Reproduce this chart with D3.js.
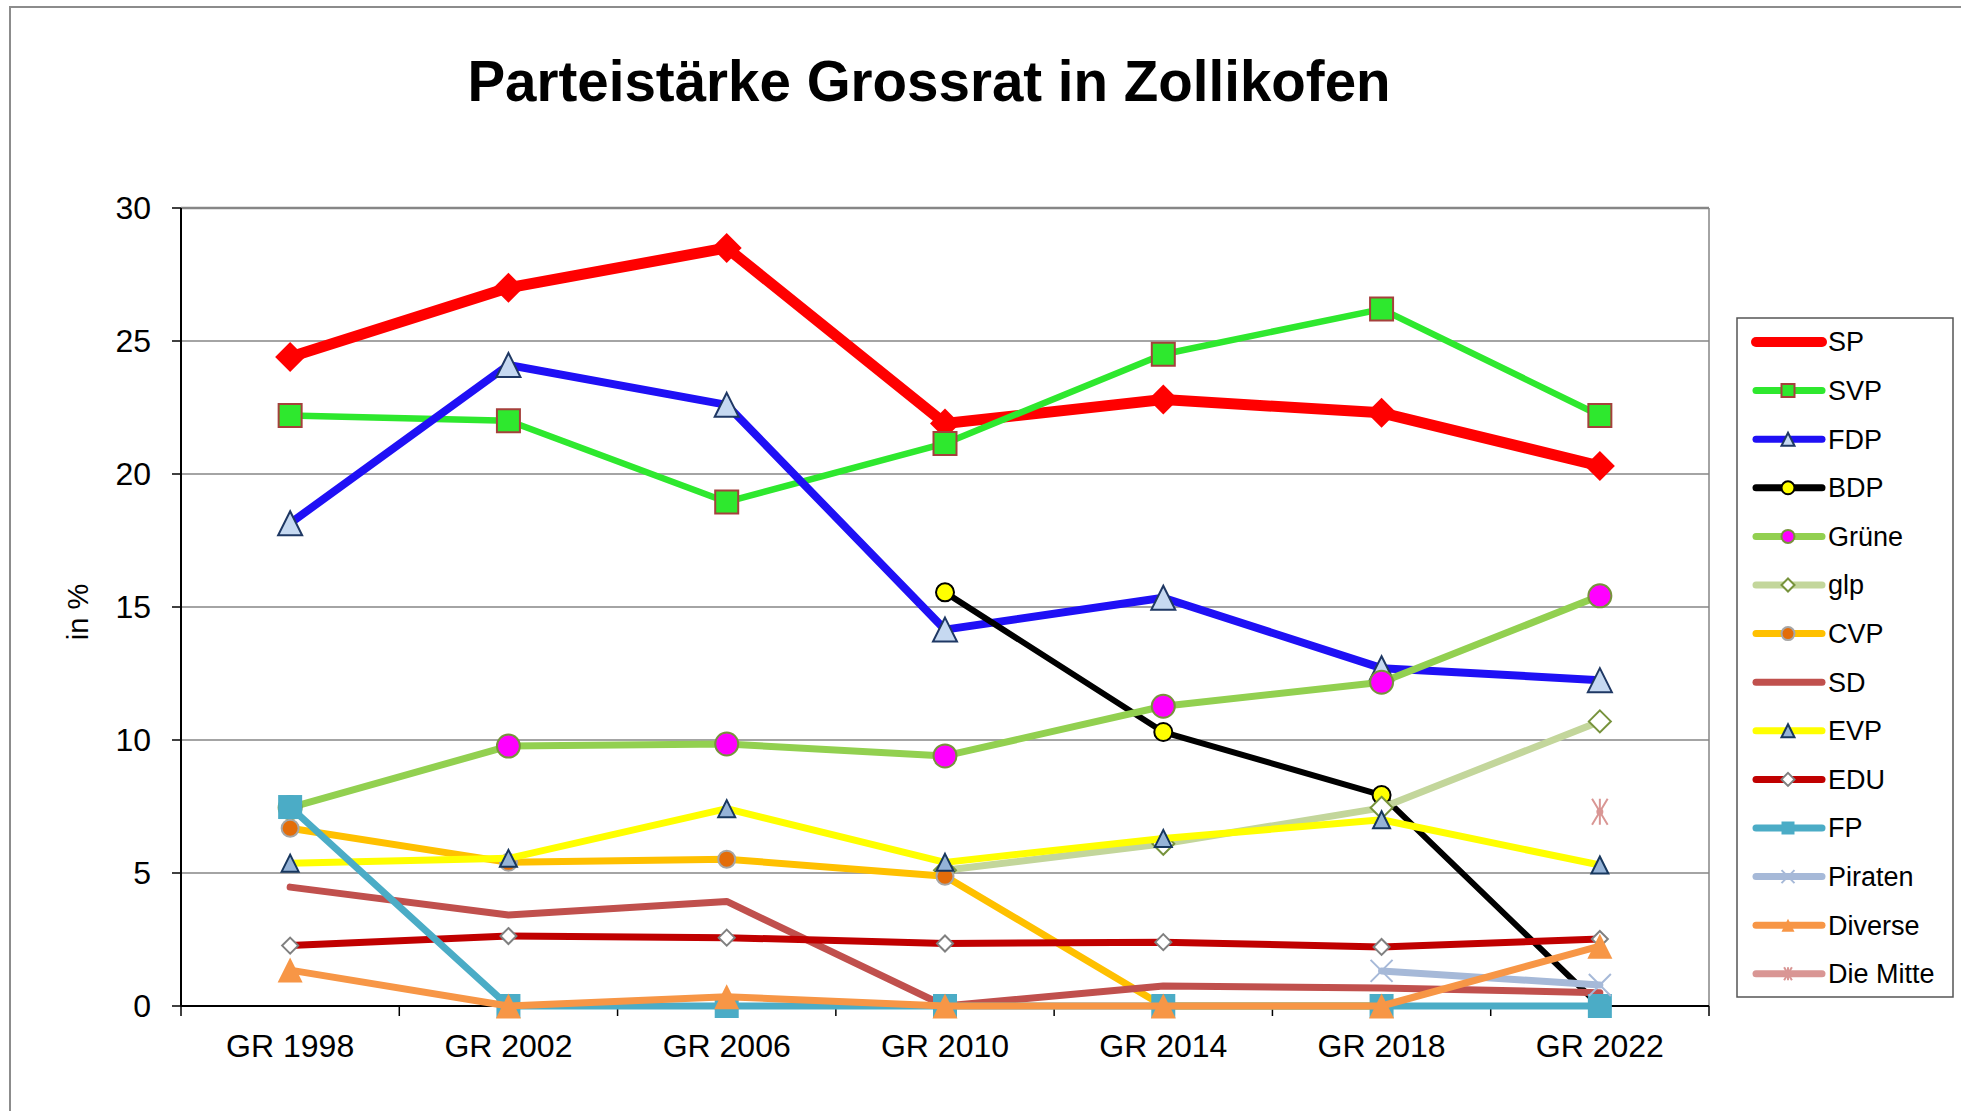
<!DOCTYPE html>
<html>
<head>
<meta charset="utf-8">
<script src="https://cdn.jsdelivr.net/npm/d3@7"></script>
<style>
  body { margin: 0; background: #fff; }
  text { font-family: Arial, "Liberation Sans", sans-serif; }
</style>
</head>
<body>
<div id="visualization"></div>
<script>
const width = 1961;
const height = 1111;
const margin = {top: 208, right: 252, bottom: 105, left: 181};

// data (percent)
const years = ['GR 1998', 'GR 2002', 'GR 2006', 'GR 2010', 'GR 2014', 'GR 2018', 'GR 2022'];
const yTicks = [0, 5, 10, 15, 20, 25, 30];
const parties = ['SP', 'SVP', 'FDP', 'BDP', 'Grüne', 'glp', 'CVP', 'SD', 'EVP', 'EDU', 'FP', 'Piraten', 'Diverse', 'Die Mitte'];

const spValues      = [24.4, 27.0, 28.5, 21.9, 22.8, 22.3, 20.3];
const svpValues     = [22.2, 22.0, 18.95, 21.15, 24.5, 26.2, 22.2];
const fdpValues     = [18.15, 24.1, 22.6, 14.15, 15.35, 12.7, 12.25];
const bdpValues     = [null, null, null, 15.55, 10.3, 7.93, 0];
const grueneValues  = [7.46, 9.77, 9.85, 9.4, 11.27, 12.17, 15.42];
const glpValues     = [null, null, null, 5.1, 6.1, 7.45, 10.7];
const cvpValues     = [6.68, 5.4, 5.52, 4.88, 0, 0, null];
const sdValues      = [4.47, 3.42, 3.93, 0, 0.75, 0.68, 0.5];
const evpValues     = [5.37, 5.55, 7.42, 5.4, 6.3, 7.0, 5.3];
const eduValues     = [2.27, 2.63, 2.57, 2.35, 2.4, 2.22, 2.52];
const fpValues      = [7.48, 0, 0, 0, 0, 0, 0];
const piratenValues = [null, null, null, null, null, 1.32, 0.79];
const diverseValues = [1.35, 0, 0.35, 0, 0, 0, 2.25];
const mitteValues   = [null, null, null, null, null, null, 7.3];

const seriesValues = [spValues, svpValues, fdpValues, bdpValues, grueneValues, glpValues,
    cvpValues, sdValues, evpValues, eduValues, fpValues, piratenValues, diverseValues, mitteValues];

// look of each series, same order as parties
const seriesStyle = [
    {line: '#ff0000', lw: 11,  marker: 'diamond',  size: 30, fill: '#ff0000', stroke: '#ff0000', sw: 0},
    {line: '#2ee82e', lw: 6.5, marker: 'square',   size: 23, fill: '#2ee82e', stroke: '#a5403c', sw: 2},
    {line: '#1f10f5', lw: 8,   marker: 'triangle', size: 24, fill: '#c6d9f1', stroke: '#1f3864', sw: 2},
    {line: '#000000', lw: 6,   marker: 'circle',   size: 18, fill: '#ffff00', stroke: '#000000', sw: 2},
    {line: '#92d050', lw: 7,   marker: 'circle',   size: 23, fill: '#ff00ff', stroke: '#77933c', sw: 2},
    {line: '#c3d69b', lw: 7,   marker: 'diamond',  size: 22, fill: '#ffffff', stroke: '#77933c', sw: 2},
    {line: '#ffc000', lw: 7,   marker: 'circle',   size: 17, fill: '#e36c09', stroke: '#a6a6a6', sw: 2},
    {line: '#c0504d', lw: 7,   marker: 'none',     size: 0,  fill: 'none',    stroke: 'none',    sw: 0},
    {line: '#ffff00', lw: 7,   marker: 'triangle', size: 17, fill: '#95b3d7', stroke: '#17375e', sw: 2},
    {line: '#c00000', lw: 7,   marker: 'diamond',  size: 16, fill: '#ffffff', stroke: '#808080', sw: 2},
    {line: '#4bacc6', lw: 7,   marker: 'square',   size: 24, fill: '#4bacc6', stroke: '#4bacc6', sw: 0},
    {line: '#a6b9d8', lw: 7,   marker: 'x',        size: 22, fill: 'none',    stroke: '#a6b9d8', sw: 2},
    {line: '#f79646', lw: 7,   marker: 'triangle', size: 25, fill: '#f79646', stroke: '#f79646', sw: 0},
    {line: '#d99694', lw: 7,   marker: 'star',     size: 26, fill: 'none',    stroke: '#d99694', sw: 2}
];

function markerPath(type, s) {
    const h = s / 2;
    switch (type) {
        case 'diamond':
            return `M0,${-h}L${h},0L0,${h}L${-h},0Z`;
        case 'square':
            return `M${-h},${-h}H${h}V${h}H${-h}Z`;
        case 'triangle':
            return `M0,${-h}L${h},${h}L${-h},${h}Z`;
        case 'circle':
            return `M${h},0A${h},${h} 0 1,1 ${-h},0A${h},${h} 0 1,1 ${h},0Z`;
        case 'x':
            return `M${-h},${-h}L${h},${h}M${-h},${h}L${h},${-h}`;
        case 'star':
            return `M${-h * 0.6},${-h}L${h * 0.6},${h}M${-h * 0.6},${h}L${h * 0.6},${-h}M0,${-h}V${h}`;
        default:
            return '';
    }
}

document.addEventListener('DOMContentLoaded', function() {
    const innerWidth = width - margin.left - margin.right;
    const innerHeight = height - margin.top - margin.bottom;

    const svg = d3.select('#visualization')
        .append('svg')
        .attr('width', width)
        .attr('height', height);

    // outer chart frame
    svg.append('rect')
        .attr('x', 10).attr('y', 7)
        .attr('width', width + 20).attr('height', height + 20)
        .attr('fill', 'none')
        .attr('stroke', '#8c8c8c')
        .attr('stroke-width', 2);

    svg.append('text')
        .attr('x', 929)
        .attr('y', 101)
        .attr('text-anchor', 'middle')
        .attr('font-size', 56.5)
        .attr('font-weight', 'bold')
        .text('Parteistärke Grossrat in Zollikofen');

    const g = svg.append('g')
        .attr('transform', `translate(${margin.left},${margin.top})`);

    const xScale = d3.scaleBand().domain(years).range([0, innerWidth]);
    const yScale = d3.scaleLinear().domain([0, 30]).range([innerHeight, 0]);

    drawGrid(g, xScale, yScale, innerWidth, innerHeight);
    drawSeries(g, xScale, yScale);
    drawLegend(svg);
});

function drawGrid(g, xScale, yScale, innerWidth, innerHeight) {
    yTicks.forEach(v => {
        if (v > 0) {
            g.append('line')
                .attr('x1', 0).attr('x2', innerWidth)
                .attr('y1', yScale(v)).attr('y2', yScale(v))
                .attr('stroke', '#868686')
                .attr('stroke-width', v === 30 ? 2.5 : 1.5);
        }
        g.append('line')
            .attr('x1', -9).attr('x2', 0)
            .attr('y1', yScale(v)).attr('y2', yScale(v))
            .attr('stroke', '#000').attr('stroke-width', 1.5);
        g.append('text')
            .attr('x', -30)
            .attr('y', yScale(v))
            .attr('dy', '0.35em')
            .attr('text-anchor', 'end')
            .attr('font-size', 32)
            .text(v);
    });

    // right frame of the plot area
    g.append('line')
        .attr('x1', innerWidth).attr('x2', innerWidth)
        .attr('y1', 0).attr('y2', innerHeight)
        .attr('stroke', '#868686').attr('stroke-width', 1.5);

    // axes
    g.append('line')
        .attr('x1', 0).attr('x2', 0)
        .attr('y1', 0).attr('y2', innerHeight)
        .attr('stroke', '#000').attr('stroke-width', 2);
    g.append('line')
        .attr('x1', 0).attr('x2', innerWidth)
        .attr('y1', innerHeight).attr('y2', innerHeight)
        .attr('stroke', '#000').attr('stroke-width', 2);

    const bounds = years.map(d => xScale(d)).concat([innerWidth]);
    bounds.forEach(x => {
        g.append('line')
            .attr('x1', x).attr('x2', x)
            .attr('y1', innerHeight).attr('y2', innerHeight + 10)
            .attr('stroke', '#000').attr('stroke-width', 1.5);
    });

    years.forEach(y => {
        g.append('text')
            .attr('x', xScale(y) + xScale.bandwidth() / 2)
            .attr('y', innerHeight + 51)
            .attr('text-anchor', 'middle')
            .attr('font-size', 32)
            .text(y);
    });

    g.append('text')
        .attr('transform', `translate(${78 - margin.left},${612 - margin.top}) rotate(-90)`)
        .attr('text-anchor', 'middle')
        .attr('dy', '0.35em')
        .attr('font-size', 29)
        .text('in %');
}

function drawSeries(g, xScale, yScale) {
    const cx = d => xScale(d) + xScale.bandwidth() / 2;

    parties.forEach((name, i) => {
        const st = seriesStyle[i];
        const pts = years.map((yr, j) => ({x: cx(yr), v: seriesValues[i][j]}));
        const line = d3.line()
            .defined(d => d.v != null)
            .x(d => d.x)
            .y(d => yScale(d.v));

        const sg = g.append('g').attr('class', 'series');
        sg.append('path')
            .datum(pts)
            .attr('d', line)
            .attr('fill', 'none')
            .attr('stroke', st.line)
            .attr('stroke-width', st.lw)
            .attr('stroke-linejoin', 'round')
            .attr('stroke-linecap', 'round');

        if (st.marker !== 'none') {
            sg.selectAll('.marker')
                .data(pts.filter(d => d.v != null))
                .enter().append('path')
                .attr('class', 'marker')
                .attr('d', markerPath(st.marker, st.size))
                .attr('transform', d => `translate(${d.x},${yScale(d.v)})`)
                .attr('fill', st.fill)
                .attr('stroke', st.sw > 0 ? st.stroke : 'none')
                .attr('stroke-width', st.sw);
        }
    });
}

function drawLegend(svg) {
    const lg = svg.append('g').attr('transform', 'translate(1737,318)');
    lg.append('rect')
        .attr('width', 216)
        .attr('height', 679)
        .attr('fill', '#fff')
        .attr('stroke', '#555')
        .attr('stroke-width', 1.5);

    parties.forEach((name, i) => {
        const st = seriesStyle[i];
        const y = 24 + i * 48.6;
        lg.append('line')
            .attr('x1', 19).attr('x2', 85)
            .attr('y1', y).attr('y2', y)
            .attr('stroke', st.line)
            .attr('stroke-width', i === 0 ? 10 : 7)
            .attr('stroke-linecap', 'round');
        if (st.marker !== 'none') {
            lg.append('path')
                .attr('d', markerPath(st.marker, i === 0 ? 10 : 13))
                .attr('transform', `translate(51,${y})`)
                .attr('fill', st.fill)
                .attr('stroke', st.sw > 0 ? st.stroke : 'none')
                .attr('stroke-width', st.sw);
        }
        lg.append('text')
            .attr('x', 91)
            .attr('y', y)
            .attr('dy', '0.35em')
            .attr('font-size', 27)
            .text(name);
    });
}
</script>
</body>
</html>
